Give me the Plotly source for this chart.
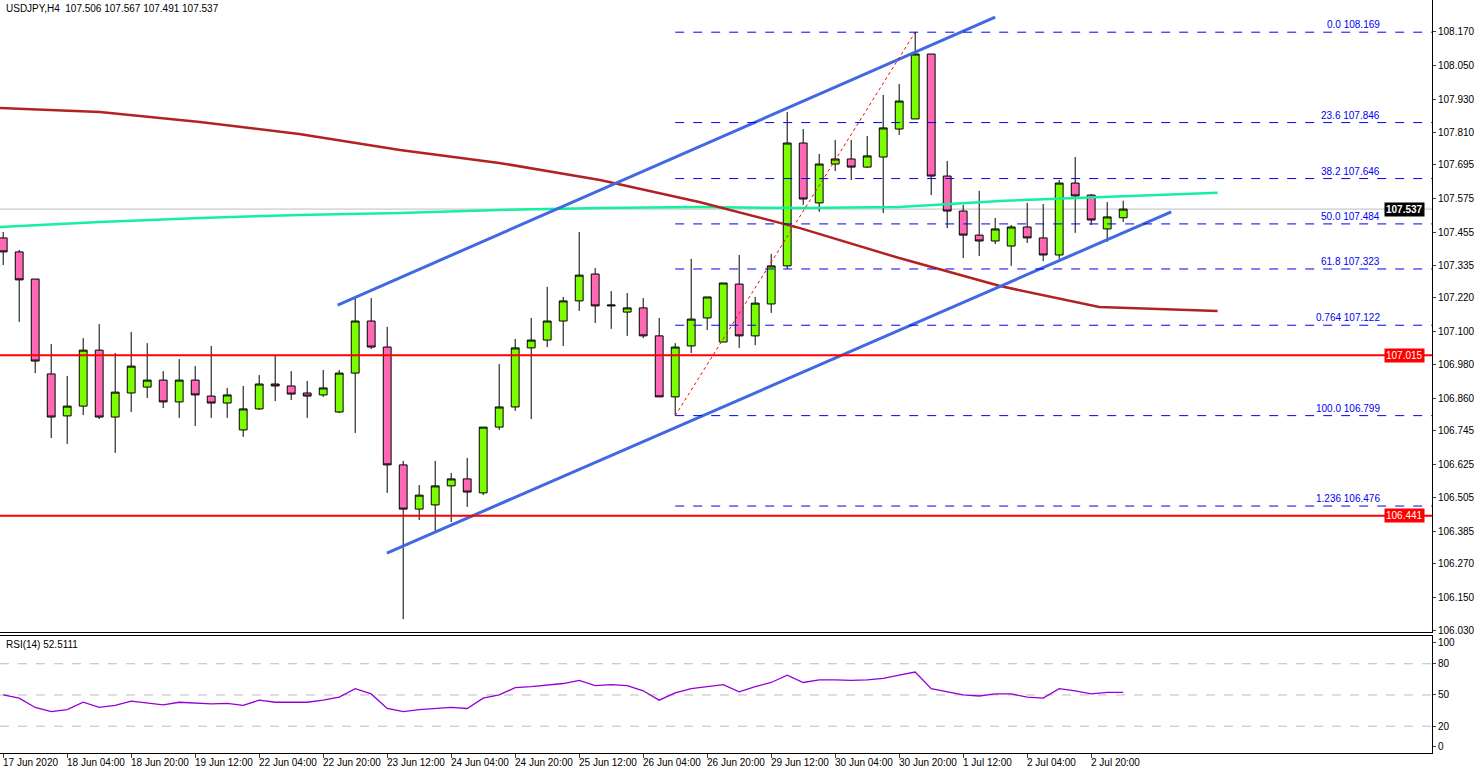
import plotly.graph_objects as go

opens = [107.434,107.384,107.287,106.948,106.798,106.833,107.033,106.794,106.880,106.901,106.926,106.848,106.926,106.869,106.844,106.748,106.823,106.912,106.905,106.880,106.873,106.812,106.951,107.137,107.044,106.623,106.465,106.480,106.548,106.573,106.523,106.758,106.830,107.041,107.069,107.137,107.209,107.305,107.191,107.169,107.184,107.084,106.866,107.048,107.148,107.062,107.269,107.084,107.198,107.334,107.773,107.559,107.698,107.716,107.687,107.723,107.823,107.859,108.091,107.655,107.530,107.444,107.423,107.405,107.473,107.434,107.373,107.630,107.587,107.466,107.506]
highs = [107.455,107.391,107.287,107.055,106.941,107.076,107.126,107.023,107.098,107.058,106.958,107.001,106.976,107.048,106.898,106.905,106.944,107.012,106.958,106.923,106.962,106.962,107.223,107.219,107.116,106.637,106.551,106.637,106.594,106.648,106.758,106.983,107.073,107.148,107.259,107.223,107.455,107.326,107.244,107.237,107.219,107.148,107.058,107.359,107.223,107.273,107.373,107.223,107.377,107.884,107.823,107.734,107.784,107.784,107.798,107.945,107.984,108.170,108.091,107.709,107.552,107.602,107.505,107.480,107.559,107.555,107.641,107.723,107.591,107.562,107.567]
lows = [107.337,107.134,106.951,106.719,106.698,106.801,106.787,106.666,106.812,106.862,106.826,106.791,106.762,106.791,106.791,106.723,106.819,106.851,106.855,106.791,106.866,106.808,106.737,107.037,106.523,106.072,106.426,106.387,106.419,106.473,106.515,106.748,106.816,106.787,107.044,107.048,107.173,107.130,107.109,107.084,107.076,106.866,106.801,107.023,107.105,107.062,107.041,107.051,107.166,107.323,107.552,107.527,107.673,107.641,107.684,107.523,107.802,107.859,107.587,107.469,107.362,107.369,107.412,107.334,107.416,107.351,107.359,107.452,107.480,107.420,107.491]
closes = [107.384,107.284,106.994,106.794,106.833,107.033,106.794,106.883,106.976,106.926,106.848,106.926,106.873,106.844,106.873,106.823,106.912,106.905,106.876,106.869,106.898,106.951,107.137,107.044,106.623,106.465,106.515,106.548,106.573,106.526,106.758,106.830,107.041,107.069,107.137,107.209,107.301,107.191,107.194,107.184,107.084,106.866,107.044,107.144,107.223,107.273,107.084,107.201,107.334,107.773,107.573,107.698,107.716,107.687,107.727,107.827,107.923,108.091,107.655,107.530,107.444,107.423,107.466,107.473,107.434,107.373,107.630,107.584,107.498,107.509,107.537]
rsi = [50,47,38,34,36,43,38,40,44,42.5,40.4,43,42,41.5,42,40,45,43,43,43,45,48,56,51,37,34,36,37,38,37,47,50,57,58,59.5,61,64,59,60,59,54,45,52,56,58,60,53,58,62,69,62,64.5,64.5,64,64.5,66,69,72,56,53,50,49,51,51,48,47,56,54,51,52.5,52.5]

ma_idx = [-0.2,6.04,12.3,18.5,24.8,31.0,37.3,43.5,49.8,56.0,62.3,68.5,75.9]
ma_fast = [107.473,107.491,107.505,107.516,107.523,107.534,107.541,107.544,107.541,107.544,107.566,107.580,107.595]
ma_slow = [107.898,107.884,107.848,107.805,107.748,107.702,107.641,107.562,107.469,107.362,107.262,107.187,107.173]

fib_levels = [108.169,107.846,107.646,107.484,107.323,107.122,106.799,106.476]
fib_labels = ["0.0 108.169","23.6 107.846","38.2 107.646","50.0 107.484","61.8 107.323","0.764 107.122","100.0 106.799","1.236 106.476"]
support_levels = [107.015,106.441]
last_price = 107.537

upper_channel = ([20.9, 62.0], [107.194, 108.223])
lower_channel = ([23.98, 73.0], [106.308, 107.527])
fib_trend = ([42, 57], [106.799, 108.169])

price_ticks = [108.170,108.050,107.930,107.810,107.695,107.575,107.455,107.335,107.220,107.100,106.980,106.860,106.745,106.625,106.505,106.385,106.270,106.150,106.030]
time_labels = ["17 Jun 2020","18 Jun 04:00","18 Jun 20:00","19 Jun 12:00","22 Jun 04:00","22 Jun 20:00","23 Jun 12:00","24 Jun 04:00","24 Jun 20:00","25 Jun 12:00","26 Jun 04:00","26 Jun 20:00","29 Jun 12:00","30 Jun 04:00","30 Jun 20:00","1 Jul 12:00","2 Jul 04:00","2 Jul 20:00"]
rsi_ticks = [100,80,50,20,0]

idx = list(range(len(opens)))
XR = [-0.2, 89.3]
YR = [106.026, 108.284]
font = "Liberation Sans"
FS = 10
time_pos = list(range(0, 4 * len(time_labels), 4))

fig = go.Figure()
fig.add_trace(go.Scatter(x=ma_idx, y=ma_fast, mode="lines", line=dict(color="#12F0A0", width=2.5), xaxis="x", yaxis="y", hoverinfo="skip"))
fig.add_trace(go.Scatter(x=ma_idx, y=ma_slow, mode="lines", line=dict(color="#B22222", width=2.5), xaxis="x", yaxis="y", hoverinfo="skip"))
fig.add_trace(go.Candlestick(x=idx, open=opens, high=highs, low=lows, close=closes,
    increasing=dict(fillcolor="#7CFC00", line=dict(color="black", width=1)),
    decreasing=dict(fillcolor="#FF69B4", line=dict(color="black", width=1)),
    whiskerwidth=0, xaxis="x", yaxis="y"))
for xs, ys, c, w, d in [(upper_channel[0], upper_channel[1], "#4169E1", 3, "solid"),
                        (lower_channel[0], lower_channel[1], "#4169E1", 3, "solid"),
                        (fib_trend[0], fib_trend[1], "red", 1, "dot")]:
    fig.add_trace(go.Scatter(x=xs, y=ys, mode="lines", line=dict(color=c, width=w, dash=d), xaxis="x", yaxis="y", hoverinfo="skip"))
fig.add_trace(go.Scatter(x=idx, y=rsi, mode="lines", line=dict(color="#9400D3", width=1.3), xaxis="x2", yaxis="y2"))

shapes = []
shapes.append(dict(type="line", xref="x", yref="y", x0=XR[0], x1=XR[1], y0=last_price, y1=last_price, line=dict(color="#BDBDBD", width=1), layer="below"))
for lv in support_levels:
    shapes.append(dict(type="line", xref="x", yref="y", x0=XR[0], x1=XR[1], y0=lv, y1=lv, line=dict(color="red", width=2)))
for lv in fib_levels:
    shapes.append(dict(type="line", xref="x", yref="y", x0=fib_trend[0][0], x1=XR[1], y0=lv, y1=lv, line=dict(color="#0000EE", width=1, dash="dash")))
for lv in [80, 50, 20]:
    shapes.append(dict(type="line", xref="x2", yref="y2", x0=XR[0], x1=XR[1], y0=lv, y1=lv, line=dict(color="#BBBBBB", width=1, dash="dash"), layer="below"))

ann = []
for lv, lb in zip(fib_levels, fib_labels):
    ann.append(dict(x=1, xref="paper", y=lv, yref="y", text=lb, showarrow=False, xanchor="right", yanchor="bottom", xshift=-50, yshift=0, font=dict(family=font, size=FS, color="#0000EE")))
ann.append(dict(x=1, xref="paper", y=last_price, yref="y", text="<b>107.537</b>", showarrow=False, xanchor="left", xshift=-48, bgcolor="black", font=dict(family=font, size=FS, color="white"), borderpad=1))
for lv in support_levels:
    ann.append(dict(x=1, xref="paper", y=lv, yref="y", text=f"{lv:.3f}", showarrow=False, xanchor="left", xshift=-48, bgcolor="red", font=dict(family=font, size=FS, color="white"), borderpad=1))
ann.append(dict(x=0, xref="paper", y=1, yref="paper", text="USDJPY,H4  107.506 107.567 107.491 107.537", showarrow=False, xanchor="left", yanchor="top", xshift=4, yshift=-1, font=dict(family=font, size=FS, color="black")))
ann.append(dict(x=0, xref="paper", y=0.1554, yref="paper", text="RSI(14) 52.5111", showarrow=False, xanchor="left", yanchor="top", xshift=4, yshift=-1, font=dict(family=font, size=FS, color="black")))
for p, t in zip(time_pos, time_labels):
    ann.append(dict(x=p, xref="x2", y=0, yref="paper", text=t, showarrow=False, xanchor="left", yanchor="top", xshift=-2, yshift=-2, font=dict(family=font, size=FS, color="black")))

fig.update_layout(
    width=1480, height=774, margin=dict(l=0, r=48, t=0, b=21, autoexpand=False),
    paper_bgcolor="white", plot_bgcolor="white", showlegend=False,
    font=dict(family=font, size=FS, color="black"),
    shapes=shapes, annotations=ann,
    xaxis=dict(range=XR, domain=[0, 1], anchor="y", showticklabels=False, showgrid=False, zeroline=False,
               showline=True, linecolor="black", mirror=True, rangeslider=dict(visible=False), ticks="", automargin=False),
    yaxis=dict(range=YR, domain=[0.1607, 1], side="right", tickvals=price_ticks, ticktext=[f"{v:.3f}" for v in price_ticks],
               ticks="outside", ticklen=3, showgrid=False, zeroline=False, showline=True, linecolor="black", mirror=True,
               tickfont=dict(size=FS), automargin=False),
    xaxis2=dict(range=XR, domain=[0, 1], anchor="y2", tickvals=time_pos, showticklabels=False,
                ticks="outside", ticklen=4, showgrid=False, zeroline=False, showline=True, linecolor="black", mirror=True,
                automargin=False),
    yaxis2=dict(range=[-5.8, 106.7], domain=[0, 0.1554], side="right", tickvals=rsi_ticks, ticks="outside", ticklen=3,
                showgrid=False, zeroline=False, showline=True, linecolor="black", mirror=True, tickfont=dict(size=FS), automargin=False),
)
fig.write_html("out.html", config={"displayModeBar": False}, post_script="document.body.style.margin='0';")
